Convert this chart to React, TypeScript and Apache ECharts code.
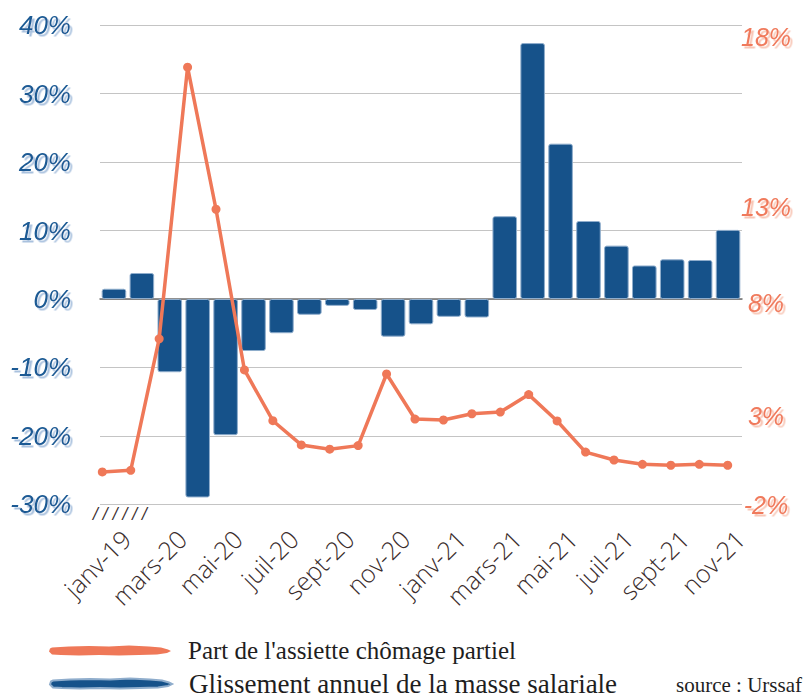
import React, { useEffect, useRef } from "react";
import * as echarts from "echarts";

const categories = [
  "janv-19", "févr-20", "mars-20", "avr-20", "mai-20", "juin-20", "juil-20", "août-20",
  "sept-20", "oct-20", "nov-20", "déc-20", "janv-21", "févr-21", "mars-21", "avr-21",
  "mai-21", "juin-21", "juil-21", "août-21", "sept-21", "oct-21", "nov-21",
];

// Glissement annuel de la masse salariale (%)
const masseSalariale = [
  1.5, 3.8, -10.7, -29.0, -19.9, -7.6, -5.0, -2.3, -1.0, -1.6, -5.5, -3.7,
  -2.6, -2.7, 12.1, 37.4, 22.7, 11.4, 7.8, 4.9, 5.8, 5.7, 10.1,
];

// Part de l'assiette chômage partiel (%), right-hand scale
const chomagePartiel = [
  -0.65, -0.58, 4.91, 16.25, 10.32, 3.61, 1.49, 0.48, 0.3, 0.45, 3.44, 1.56,
  1.52, 1.78, 1.85, 2.58, 1.48, 0.18, -0.15, -0.33, -0.37, -0.33, -0.37,
];

const leftMin = -30;
const leftMax = 40;
const leftStep = 10;

const rightMin = -2;
const rightMax = 18;
const rightTickLabels = ["18%", "13%", "8%", "3%", "-2%"];
const rightTickY = [37, 207, 303, 416, 505];

const lineName = "Part de l'assiette chômage partiel";
const barName = "Glissement annuel de la masse salariale";
const sourceText = "source : Urssaf";
const breakMark = "/ / / / / /";

const BLUE = "#16528a";
const ORANGE = "#ef7858";

const brushPath =
  "path://M3,3 L20,2 L40,1.5 L60,2 L80,1 L100,2 L112,3 L119,5 L122,6.5 L118,8.5 L108,10 L90,10.5 L70,11 L50,10.5 L30,11 L12,10.5 L3,10 L0,7 L1,4 Z";

export default function App() {
  const ref = useRef<HTMLDivElement>(null);

  useEffect(() => {
    if (!ref.current) return;
    const chart = echarts.init(ref.current, undefined, { renderer: "svg" });

    const top = 25.3;
    const bottom = 697 - 504.3;
    const sh = 2.5;

    const option: any = {
      animation: false,
      backgroundColor: "#ffffff",
      grid: [
        { left: 100, right: 69, top, bottom, containLabel: false },
        { left: 102.3, right: 811 - 727.7, top, bottom, containLabel: false },
        { left: 112, right: 57, top, bottom, containLabel: false },
      ],
      xAxis: [
        {
          type: "category",
          gridIndex: 0,
          data: categories,
          boundaryGap: true,
          axisLine: { show: true, onZero: true, lineStyle: { color: "#6e6e6e", width: 1.5 } },
          axisTick: { show: false },
          axisLabel: { show: false },
          splitLine: { show: false },
        },
        {
          type: "category",
          gridIndex: 1,
          data: categories,
          boundaryGap: false,
          axisLine: { show: false },
          axisTick: { show: false },
          axisLabel: { show: false },
          splitLine: { show: false },
        },
        {
          type: "category",
          gridIndex: 2,
          data: categories,
          boundaryGap: true,
          axisLine: { show: false },
          axisTick: { show: false },
          splitLine: { show: false },
          axisLabel: {
            show: true,
            interval: 1,
            rotate: 45,
            margin: 30,
            color: "#3a2c2c",
            fontFamily: "Open Sans",
            fontWeight: 300,
            fontSize: 25,
          },
        },
      ],
      yAxis: [
        {
          type: "value",
          gridIndex: 0,
          min: leftMin,
          max: leftMax,
          interval: leftStep,
          axisLine: { show: false },
          axisTick: { show: false },
          splitLine: { show: true, lineStyle: { color: "#c4c4c4", width: 1 } },
          axisLabel: {
            margin: 29,
            formatter: (v: number) => `${v}%`,
            fontFamily: "Liberation Sans",
            fontStyle: "italic",
            fontSize: 26,
            color: "#1b5a94",
            textShadowColor: "#a9c1de",
            textShadowBlur: 1,
            textShadowOffsetX: sh,
            textShadowOffsetY: sh,
          },
        },
        {
          type: "value",
          gridIndex: 1,
          min: rightMin,
          max: rightMax,
          position: "right",
          axisLine: { show: false },
          axisTick: { show: false },
          splitLine: { show: false },
          axisLabel: { show: false },
        },
        {
          type: "value",
          gridIndex: 2,
          min: leftMin,
          max: leftMax,
          show: false,
        },
      ],
      legend: [
        {
          show: true,
          orient: "vertical",
          left: 44,
          top: 633,
          itemWidth: 122,
          itemHeight: 12,
          selectedMode: false,
          textStyle: {
            fontFamily: "Liberation Serif",
            fontSize: 25,
            color: "#1e1e1e",
            padding: [0, 0, 0, 12],
          },
          data: [{ name: lineName, icon: brushPath, itemStyle: { color: ORANGE } }],
        },
        {
          show: true,
          orient: "vertical",
          left: 44,
          top: 665,
          itemWidth: 122,
          itemHeight: 12,
          selectedMode: false,
          textStyle: {
            fontFamily: "Liberation Serif",
            fontSize: 27,
            color: "#1e1e1e",
            padding: [0, 0, 0, 12],
          },
          data: [{ name: barName, icon: brushPath, itemStyle: { color: BLUE } }],
        },
      ],
      series: [
        {
          name: barName,
          type: "bar",
          xAxisIndex: 0,
          yAxisIndex: 0,
          data: masseSalariale,
          barCategoryGap: "12%",
          itemStyle: {
            color: BLUE,
            borderColor: "#8fadcc",
            borderWidth: 1,
            borderRadius: 2,
          },
        },
        {
          name: lineName,
          type: "line",
          xAxisIndex: 1,
          yAxisIndex: 1,
          data: chomagePartiel,
          symbol: "circle",
          symbolSize: 9,
          lineStyle: { color: ORANGE, width: 3.5 },
          itemStyle: { color: ORANGE },
          z: 5,
        },
      ],
      graphic: [
        ...rightTickLabels.map((t, i) => ({
          type: "text",
          x: 766,
          y: rightTickY[i],
          z: 2,
          style: {
            text: t,
            fill: "#f07a5c",
            font: "italic 25px 'Liberation Sans'",
            align: "center",
            verticalAlign: "middle",
            textShadowColor: "#f8c6b6",
            textShadowBlur: 1,
            textShadowOffsetX: sh,
            textShadowOffsetY: sh,
          },
        })),
        {
          type: "text",
          x: 93,
          y: 514,
          style: {
            text: breakMark,
            fill: "#3a2c2c",
            font: "italic 15px 'DejaVu Sans'",
            align: "left",
            verticalAlign: "middle",
          },
        },
        {
          type: "text",
          x: 676,
          y: 685,
          style: {
            text: sourceText,
            fill: "#1e1e1e",
            font: "21px 'Liberation Serif'",
            align: "left",
            verticalAlign: "middle",
          },
        },
      ],
    };

    chart.setOption(option);
    return () => chart.dispose();
  }, []);

  return (
    <div
      ref={ref}
      style={{ position: "fixed", left: 0, top: 0, width: 811, height: 697, background: "#fff" }}
    />
  );
}
